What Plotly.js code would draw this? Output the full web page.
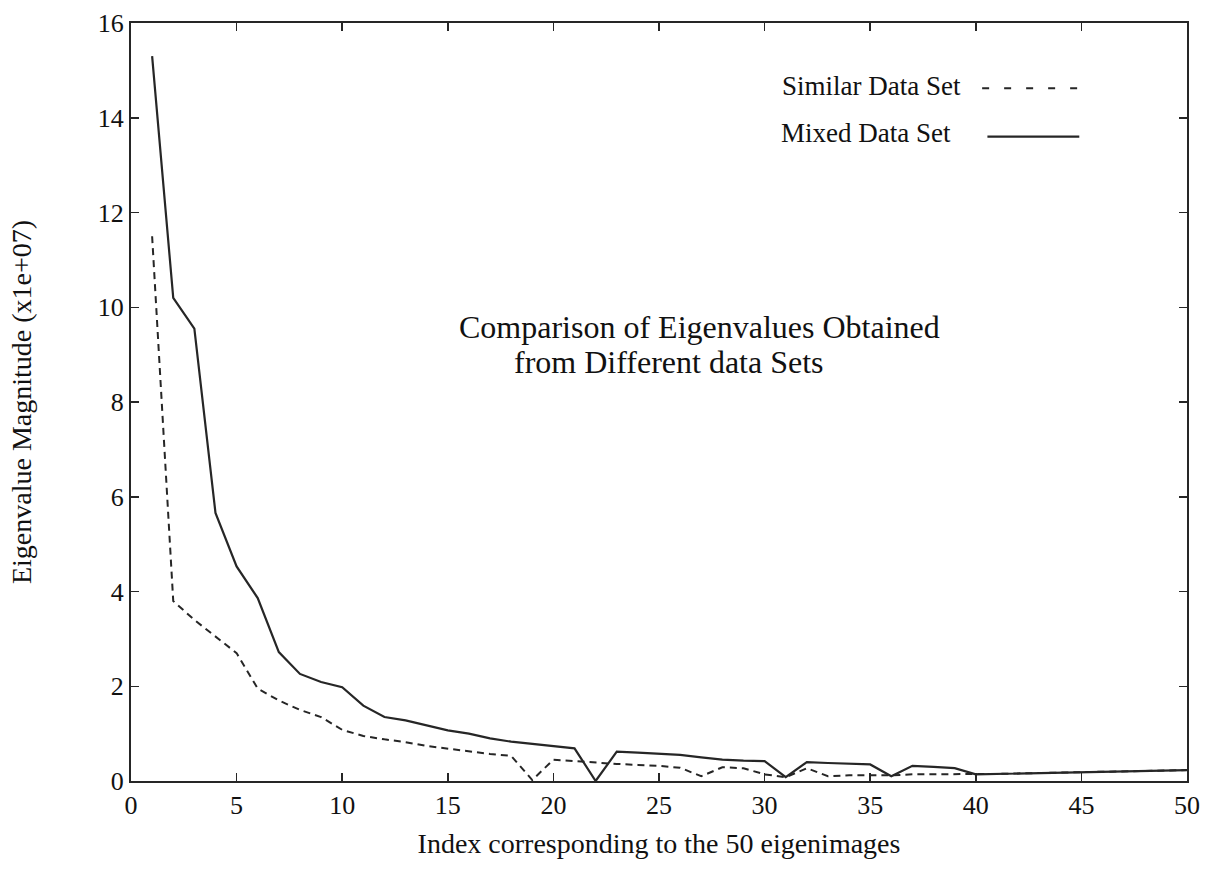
<!DOCTYPE html>
<html>
<head>
<meta charset="utf-8">
<script src="https://cdn.plot.ly/plotly-3.0.1.min.js"></script>
<style>html,body{margin:0;padding:0;background:#fff;}#chart{width:1212px;height:885px;}</style>
</head>
<body>
<div id="chart"></div>
<script>
// Eigenvalue index (1..50)
const indexValues = [];
for (let i = 1; i <= 50; i++) indexValues.push(i);

// Eigenvalue magnitude (x1e+07)
const similarData = [11.5, 3.8, 3.4, 3.05, 2.7, 1.95, 1.7, 1.5, 1.35, 1.08,
  0.95, 0.88, 0.82, 0.74, 0.68, 0.62, 0.57, 0.53, 0.02, 0.45,
  0.42, 0.38, 0.36, 0.34, 0.32, 0.28, 0.1, 0.29, 0.27, 0.14,
  0.08, 0.27, 0.1, 0.12, 0.12, 0.12, 0.14, 0.14, 0.15, 0.14,
  0.15, 0.16, 0.17, 0.18, 0.19, 0.2, 0.2, 0.21, 0.22, 0.23];

const mixedData = [15.3, 10.2, 9.55, 5.66, 4.53, 3.86, 2.72, 2.26, 2.09, 1.98,
  1.59, 1.35, 1.28, 1.18, 1.07, 1.0, 0.9, 0.83, 0.78, 0.74,
  0.69, 0.0, 0.62, 0.6, 0.57, 0.55, 0.5, 0.45, 0.43, 0.42,
  0.08, 0.4, 0.38, 0.37, 0.35, 0.1, 0.32, 0.3, 0.27, 0.14,
  0.15, 0.16, 0.17, 0.18, 0.19, 0.2, 0.2, 0.21, 0.22, 0.23];

const seriesNames = ["Similar Data Set", "Mixed Data Set"];
const xTickVals = [0, 5, 10, 15, 20, 25, 30, 35, 40, 45, 50];
const yTickVals = [0, 2, 4, 6, 8, 10, 12, 14, 16];
const chartNote = ["Comparison of Eigenvalues Obtained", "from Different data Sets"];
const xTitle = "Index corresponding to the 50 eigenimages";
const yTitle = "Eigenvalue Magnitude (x1e+07)";

const ink = "#262626";
const serif = "Liberation Serif, Times New Roman, serif";

const traces = [
  {x: indexValues, y: similarData, mode: "lines", name: seriesNames[0],
   line: {color: ink, width: 2, dash: "7px,5px"}, showlegend: false},
  {x: indexValues, y: mixedData, mode: "lines", name: seriesNames[1],
   line: {color: ink, width: 2.2}, showlegend: false}
];

const axisCommon = {
  showgrid: false, zeroline: false, showline: true, mirror: "ticks",
  linecolor: ink, linewidth: 2, ticks: "inside", ticklen: 8, tickwidth: 1.5,
  tickcolor: ink, tickfont: {family: serif, size: 26, color: "#111"}
};

const layout = {
  width: 1212, height: 885,
  margin: {l: 131, r: 25, t: 23, b: 104},
  paper_bgcolor: "#fff", plot_bgcolor: "#fff",
  xaxis: Object.assign({}, axisCommon, {
    range: [0, 50], tickvals: xTickVals, ticktext: xTickVals.map(String),
    title: {text: xTitle, font: {family: serif, size: 28, color: "#111"}, standoff: 14}
  }),
  yaxis: Object.assign({}, axisCommon, {
    range: [0, 16], tickvals: yTickVals, ticktext: yTickVals.map(String),
    title: {text: yTitle, font: {family: serif, size: 28, color: "#111"}, standoff: 58}
  }),
  annotations: [
    {xref: "paper", yref: "paper", x: 0.309, y: 0.599, xanchor: "left", yanchor: "middle",
     text: chartNote[0], showarrow: false, font: {family: serif, size: 32, color: "#111"}},
    {xref: "paper", yref: "paper", x: 0.361, y: 0.553, xanchor: "left", yanchor: "middle",
     text: chartNote[1], showarrow: false, font: {family: serif, size: 32, color: "#111"}},
    {xref: "paper", yref: "paper", x: 0.788, y: 0.917, xanchor: "right", yanchor: "middle",
     text: seriesNames[0], showarrow: false, font: {family: serif, size: 27, color: "#111"}},
    {xref: "paper", yref: "paper", x: 0.778, y: 0.855, xanchor: "right", yanchor: "middle",
     text: seriesNames[1], showarrow: false, font: {family: serif, size: 27, color: "#111"}}
  ],
  shapes: [
    {type: "line", xref: "paper", yref: "paper", x0: 0.806, x1: 0.897, y0: 0.914, y1: 0.914,
     line: {color: ink, width: 2, dash: "7px,15px"}},
    {type: "line", xref: "paper", yref: "paper", x0: 0.811, x1: 0.898, y0: 0.850, y1: 0.850,
     line: {color: ink, width: 2.2}}
  ]
};

Plotly.newPlot("chart", traces, layout, {displayModeBar: false, staticPlot: true});
</script>
</body>
</html>
